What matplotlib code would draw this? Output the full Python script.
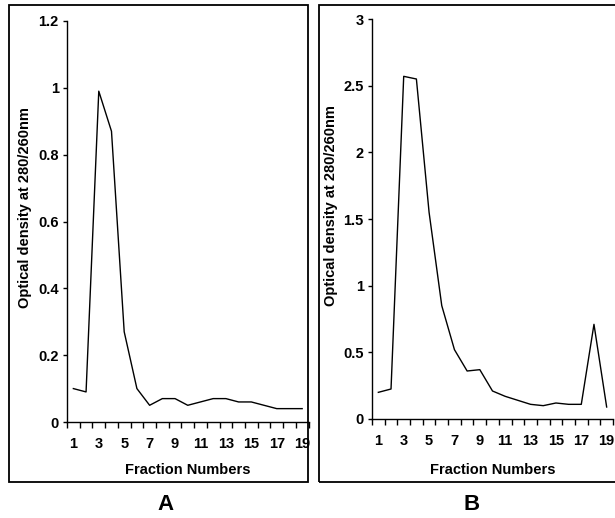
import matplotlib
matplotlib.use("Agg")
import matplotlib.pyplot as plt
from matplotlib.patches import Rectangle
import numpy as np

fractions = list(range(1, 20))
od_a = [0.10, 0.09, 0.99, 0.87, 0.27, 0.10, 0.05, 0.07, 0.07, 0.05,
        0.06, 0.07, 0.07, 0.06, 0.06, 0.05, 0.04, 0.04, 0.04]
od_b = [0.20, 0.225, 2.57, 2.55, 1.55, 0.85, 0.52, 0.36, 0.37, 0.21,
        0.17, 0.14, 0.11, 0.10, 0.12, 0.11, 0.11, 0.71, 0.09]
xtick_labels = [str(v) for v in range(1, 20, 2)]
yticks_a = [0, 0.2, 0.4, 0.6, 0.8, 1, 1.2]
yticks_b = [0, 0.5, 1, 1.5, 2, 2.5, 3]
panel_labels = ["A", "B"]
xlabel = "Fraction Numbers"
ylabel = "Optical density at 280/260nm"

plt.rcParams['font.family'] = ['Liberation Sans', 'DejaVu Sans']
W, H = 615, 518
fig = plt.figure(figsize=(W / 100, H / 100), dpi=100)

def fx(px):
    return px / W

def fy(py):
    return 1 - py / H

# panel borders
for (x0, x1) in [(9, 308), (319, 640)]:
    fig.patches.append(Rectangle((fx(x0), fy(482)), fx(x1 - x0), (482 - 5) / H,
                                 transform=fig.transFigure, fill=False,
                                 edgecolor='black', linewidth=1.3))

def make_panel(left, right, top, bottom, data, yticks, ymax, ylab_x, ylab_y):
    ax = fig.add_axes([fx(left), fy(bottom), fx(right - left), (bottom - top) / H])
    ax.plot(fractions, data, color='black', linewidth=1.0, clip_on=False)
    ax.set_xlim(0.5, 19.5)
    ax.set_ylim(0, ymax)
    for s in ['top', 'right']:
        ax.spines[s].set_visible(False)
    for s in ['left', 'bottom']:
        ax.spines[s].set_linewidth(1.0)
    ax.set_yticks(yticks)
    ax.set_yticklabels([('%g' % v) for v in yticks], fontsize=10.5, fontweight='bold')
    ax.tick_params(axis='y', direction='out', length=3, width=1.0, pad=3)
    ax.set_xticks(fractions[::2])
    ax.set_xticklabels(xtick_labels, fontsize=10.5, fontweight='bold')
    ax.set_xticks(np.arange(0.5, 20, 1.0), minor=True)
    ax.tick_params(axis='x', which='major', length=0, pad=11)
    ax.tick_params(axis='x', which='minor', direction='out', length=4, width=1.0)
    fig.text(fx((left + right) / 2), fy(470), xlabel, ha='center', va='center',
             fontsize=10.5, fontweight='bold')
    fig.text(fx(ylab_x), fy(ylab_y), ylabel, rotation=90, ha='center', va='center',
             fontsize=10.5, fontweight='bold')
    return ax

make_panel(67, 308.5, 21, 422, od_a, yticks_a, 1.2, 25, 208)
make_panel(372, 613, 19, 419, od_b, yticks_b, 3, 331, 206)

fig.text(fx(165.5), fy(505), panel_labels[0], ha='center', va='center',
         fontsize=16, fontweight='bold')
fig.text(fx(472), fy(505), panel_labels[1], ha='center', va='center',
         fontsize=16, fontweight='bold')

fig.savefig("out.png", dpi=100)
